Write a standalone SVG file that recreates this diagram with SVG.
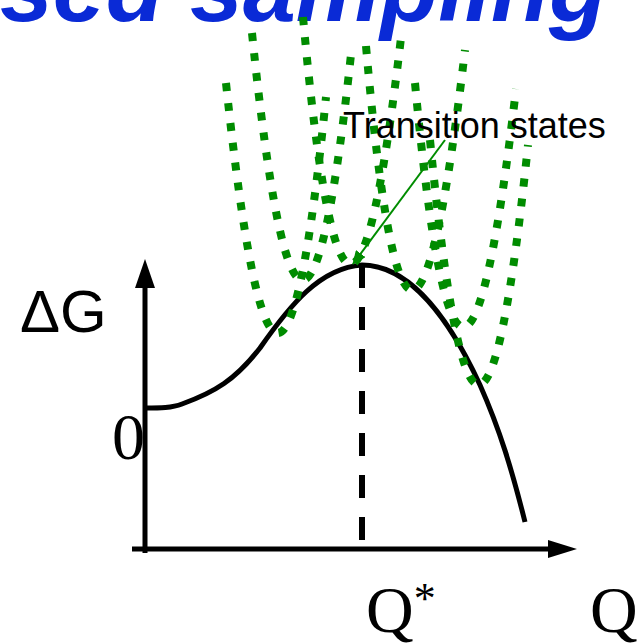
<svg xmlns="http://www.w3.org/2000/svg" width="638" height="643" viewBox="0 0 638 643">
<style>
.dots{fill:none;stroke:#008C00;stroke-width:8;stroke-dasharray:8 12}
.axis{fill:none;stroke:#000;stroke-width:5}
.serif{font-family:"Liberation Serif","Times New Roman",serif;fill:#000}
.sans{font-family:"Liberation Sans",Arial,sans-serif;fill:#000}
</style>
<defs>
<marker id="gArrow" markerWidth="14" markerHeight="12" refX="13" refY="6" orient="auto" markerUnits="userSpaceOnUse">
<path d="M0,0 L14,6 L0,12 Z" fill="#008C00"/>
</marker>
</defs>
<rect width="638" height="643" fill="#fff"/>
<text id="title" x="0" y="21" font-family="Liberation Sans, Arial, sans-serif" font-size="95" font-weight="bold" font-style="italic" fill="#0A2AD6">sed sampling</text>
<g id="axes">
<line class="axis" x1="145" y1="553" x2="145" y2="285"/>
<path d="M135,288 L145,259 L155,288 Z" fill="#000"/>
<line class="axis" x1="132" y1="549" x2="550" y2="549"/>
<path d="M548,540 L577,549 L548,558 Z" fill="#000"/>
</g>
<g id="qstar-line">
<line x1="362" y1="265" x2="362" y2="542" stroke="#000" stroke-width="6" stroke-dasharray="23 19"/>
</g>
<g id="energy-curve">
<path d="M145,408 C160,408 172,408 182,404 C215,392 235,380 260,348 C290,305 320,268 362,265 C410,265 450,320 480,385 C500,430 512,470 525,522" fill="none" stroke="#000" stroke-width="5"/>
</g>
<g id="transition-states">
<path class="dots" d="M226,83 Q278,576 326,97"/>
<path class="dots" d="M252,33 Q302,521 352,45"/>
<path class="dots" d="M303,17 Q347.5,505 402,29"/>
<path class="dots" d="M366,46 Q408.5,532 465,50"/>
<path class="dots" d="M415,83 Q460.5,568 516,89"/>
<path class="dots" d="M430,140 Q478,627 528,145"/>
</g>
<g id="connectors">
<line x1="445" y1="140" x2="353" y2="264" stroke="#008C00" stroke-width="2" marker-end="url(#gArrow)"/>
</g>
<g id="labels">
<text class="sans" x="20" y="332" font-size="60">ΔG</text>
<text class="serif" x="112" y="459" font-size="66">0</text>
<text class="serif" x="366" y="632" font-size="66">Q<tspan font-size="44" dy="-19">*</tspan></text>
<text class="serif" x="590" y="632" font-size="66">Q</text>
<text class="sans" x="343" y="138" font-size="36">Transition states</text>
</g>
</svg>
